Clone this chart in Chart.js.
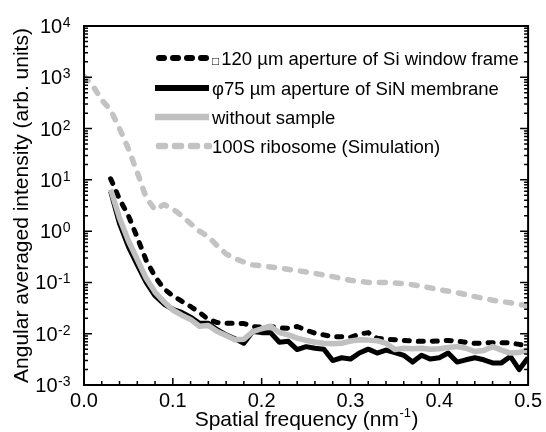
<!DOCTYPE html>
<html>
<head>
<meta charset="utf-8">
<script src="https://cdn.jsdelivr.net/npm/chart.js@4.4.1/dist/chart.umd.min.js"></script>
<style>
  body { margin: 0; background: #fff; }
</style>
</head>
<body>
<canvas id="myChart" width="546" height="432"></canvas>
<script>
const FONT = '"Liberation Sans", Arial, sans-serif';

// measured curves, sampled every 0.01 nm^-1
const measFreq = [0.03, 0.04, 0.05, 0.06, 0.07, 0.08, 0.09, 0.10, 0.11, 0.12,
  0.13, 0.14, 0.15, 0.16, 0.17, 0.18, 0.19, 0.20, 0.21, 0.22, 0.23, 0.24, 0.25,
  0.26, 0.27, 0.28, 0.29, 0.30, 0.31, 0.32, 0.33, 0.34, 0.35, 0.36, 0.37, 0.38,
  0.39, 0.40, 0.41, 0.42, 0.43, 0.44, 0.45, 0.46, 0.47, 0.48, 0.49, 0.50];
const windowFrame = [10.5, 4.2, 2.0, 0.75, 0.27, 0.13, 0.075, 0.055, 0.043, 0.034,
  0.026, 0.019, 0.0165, 0.016, 0.016, 0.0158, 0.0138, 0.0135, 0.0138, 0.013, 0.0128,
  0.0138, 0.0118, 0.0102, 0.0095, 0.0087, 0.0087, 0.0085, 0.0098, 0.0105, 0.0082,
  0.0078, 0.0076, 0.0074, 0.0072, 0.0071, 0.0071, 0.0072, 0.0074, 0.0072, 0.0068,
  0.0065, 0.0066, 0.0067, 0.0067, 0.0066, 0.0062, 0.0056];
const membrane = [6.0, 1.4, 0.5, 0.22, 0.1, 0.055, 0.038, 0.03, 0.026, 0.021,
  0.016, 0.016, 0.012, 0.0095, 0.008, 0.0065, 0.011, 0.0105, 0.0105, 0.0068, 0.0071,
  0.0049, 0.0056, 0.0052, 0.005, 0.003, 0.0034, 0.0032, 0.0042, 0.005, 0.0042,
  0.0048, 0.0043, 0.0038, 0.0028, 0.0038, 0.0032, 0.0034, 0.0042, 0.0028, 0.0031,
  0.0034, 0.0031, 0.0027, 0.0027, 0.0036, 0.002, 0.0034];
const noSample = [6.5, 1.8, 0.65, 0.28, 0.12, 0.065, 0.042, 0.029, 0.023, 0.019,
  0.014, 0.0145, 0.011, 0.0092, 0.0076, 0.0078, 0.011, 0.0125, 0.014, 0.0105, 0.0095,
  0.0082, 0.0074, 0.0068, 0.0065, 0.0064, 0.0065, 0.0072, 0.0076, 0.0075, 0.0073,
  0.0065, 0.0049, 0.0052, 0.0051, 0.0052, 0.005, 0.0051, 0.0054, 0.0056, 0.0052,
  0.0045, 0.0047, 0.0056, 0.0048, 0.0042, 0.0043, 0.0049];

// simulation
const simFreq = [0, 0.01, 0.02, 0.03, 0.04, 0.05, 0.06, 0.07, 0.08, 0.09, 0.10,
  0.11, 0.12, 0.13, 0.14, 0.15, 0.16, 0.17, 0.18, 0.19, 0.20, 0.22, 0.24, 0.26,
  0.28, 0.30, 0.32, 0.34, 0.36, 0.38, 0.40, 0.42, 0.44, 0.46, 0.48, 0.50];
const ribosome = [1050, 680, 360, 230, 100, 40, 14, 4.5, 2.6, 3.3, 2.7,
  2.0, 1.4, 1.0, 0.78, 0.52, 0.36, 0.29, 0.25, 0.22, 0.21, 0.19, 0.17, 0.15,
  0.13, 0.11, 0.10, 0.10, 0.095, 0.085, 0.072, 0.063, 0.053, 0.045, 0.040, 0.035];

const xLabels = [0, 0.1, 0.2, 0.3, 0.4, 0.5];
const yDecades = [-3, -2, -1, 0, 1, 2, 3, 4];

const pts = (xs, ys) => xs.map((v, i) => ({x: v, y: ys[i]}));

// frame, inward ticks, superscript labels and the legend
const extras = {
  id: 'extras',
  afterDraw(chart) {
    const {ctx, chartArea: a, scales: {x, y}} = chart;
    ctx.save();
    ctx.strokeStyle = '#000';
    ctx.lineWidth = 2;
    ctx.strokeRect(a.left, a.top, a.right - a.left, a.bottom - a.top);

    ctx.lineWidth = 1.5;
    ctx.beginPath();
    for (let i = 1; i < 25; i++) {
      const px = x.getPixelForValue(i * 0.02);
      const len = i % 5 === 0 ? 7 : 4;
      ctx.moveTo(px, a.bottom);
      ctx.lineTo(px, a.bottom - len);
    }
    for (let k = -3; k < 4; k++) {
      for (let m = 1; m < 10; m++) {
        const py = y.getPixelForValue(m * Math.pow(10, k));
        const len = m === 1 ? 8 : 4;
        ctx.moveTo(a.left, py); ctx.lineTo(a.left + len, py);
        ctx.moveTo(a.right, py); ctx.lineTo(a.right - len, py);
      }
    }
    ctx.stroke();

    // y tick labels 10^n
    ctx.fillStyle = '#000';
    ctx.textAlign = 'left';
    ctx.textBaseline = 'alphabetic';
    yDecades.forEach(k => {
      const py = y.getPixelForValue(Math.pow(10, k));
      const sup = String(k);
      ctx.font = '14px ' + FONT;
      const sw = ctx.measureText(sup).width;
      ctx.font = '20px ' + FONT;
      const bw = ctx.measureText('10').width;
      const x0 = 70 - sw - bw;
      ctx.fillText('10', x0, py + 7);
      ctx.font = '14px ' + FONT;
      ctx.fillText(sup, x0 + bw + 0.5, py + 1);
    });

    // x title with superscript
    const t1 = 'Spatial frequency (nm', t2 = '-1', t3 = ')';
    ctx.font = '21px ' + FONT;
    const w1 = ctx.measureText(t1).width, w3 = ctx.measureText(t3).width;
    ctx.font = '13px ' + FONT;
    const w2 = ctx.measureText(t2).width;
    let tx = (a.left + a.right) / 2 - (w1 + w2 + w3) / 2;
    const ty = 426;
    ctx.font = '21px ' + FONT;
    ctx.fillText(t1, tx, ty);
    ctx.font = '13px ' + FONT;
    ctx.fillText(t2, tx + w1 + 0.5, ty - 9);
    ctx.font = '21px ' + FONT;
    ctx.fillText(t3, tx + w1 + w2 + 1, ty);

    // legend
    const rows = [58, 88, 117, 146];
    chart.data.datasets.forEach((ds, i) => {
      const ry = rows[i];
      ctx.save();
      ctx.strokeStyle = ds.borderColor;
      ctx.lineWidth = ds.borderWidth + 1;
      ctx.lineCap = ds.borderDash ? 'round' : 'butt';
      ctx.setLineDash(ds.borderDash || []);
      ctx.beginPath();
      ctx.moveTo(ds.borderDash ? 159 : 155, ry);
      ctx.lineTo(209, ry);
      ctx.stroke();
      ctx.restore();
      let lx = 212;
      let label = ds.label;
      if (label.startsWith('□')) {
        ctx.font = '12px ' + FONT;
        ctx.fillText('□', lx, ry + 6.5);
        lx += ctx.measureText('□').width + 2;
        label = label.slice(1);
      }
      ctx.font = '18.5px ' + FONT;
      ctx.fillText(label, lx, ry + 6.5);
    });
    ctx.restore();
  }
};

const ctx = document.getElementById('myChart').getContext('2d');
const myChart = new Chart(ctx, {
  type: 'line',
  data: {
    datasets: [
      {
        label: '□120 µm aperture of Si window frame',
        data: pts(measFreq, windowFrame),
        borderColor: '#000000',
        borderWidth: 5,
        borderDash: [5, 9],
        borderCapStyle: 'round',
        order: 1
      },
      {
        label: 'φ75 µm aperture of SiN membrane',
        data: pts(measFreq, membrane),
        borderColor: '#000000',
        borderWidth: 5,
        order: 2
      },
      {
        label: 'without sample',
        data: pts(measFreq, noSample),
        borderColor: '#c0c0c0',
        borderWidth: 5.5,
        order: 0
      },
      {
        label: '100S ribosome (Simulation)',
        data: pts(simFreq, ribosome),
        borderColor: '#c3c3c3',
        borderWidth: 5.5,
        borderDash: [6, 10],
        borderCapStyle: 'round',
        order: 3
      }
    ]
  },
  options: {
    responsive: false,
    animation: false,
    layout: { padding: { top: 26, right: 16, left: 0, bottom: 0 } },
    elements: {
      point: { radius: 0 },
      line: { tension: 0, fill: false, borderJoinStyle: 'round' }
    },
    scales: {
      x: {
        type: 'linear',
        min: 0,
        max: 0.5,
        grid: { display: false, drawTicks: false },
        border: { display: false },
        ticks: {
          stepSize: 0.1,
          padding: 4,
          color: '#000',
          font: { family: FONT, size: 20 },
          maxRotation: 0,
          callback: v => xLabels.some(t => Math.abs(t - v) < 1e-9) ? v.toFixed(1) : ''
        },
        afterFit(scale) { scale.height = 47; }
      },
      y: {
        type: 'logarithmic',
        min: 1e-3,
        max: 1e4,
        grid: { display: false, drawTicks: false },
        border: { display: false },
        ticks: { display: false },
        title: {
          display: true,
          text: 'Angular averaged intensity (arb. units)',
          color: '#000',
          font: { family: FONT, size: 21 },
          padding: { top: 10, bottom: 0 }
        },
        afterFit(scale) { scale.width = 84; }
      }
    },
    plugins: {
      legend: { display: false },
      title: { display: false },
      tooltip: { enabled: false }
    }
  },
  plugins: [extras]
});
</script>
</body>
</html>
